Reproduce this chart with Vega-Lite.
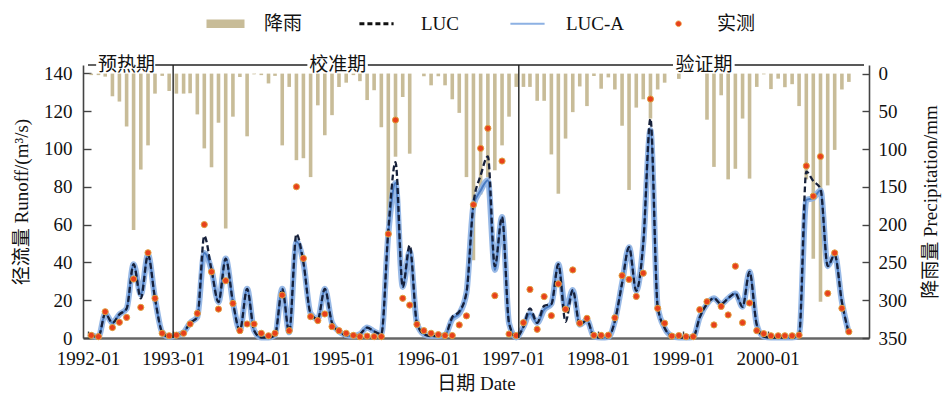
{
  "$schema": "https://vega.github.io/schema/vega-lite/v6.json",
  "autosize": {"type": "none"},
  "width": 786,
  "height": 273,
  "padding": {"left": 83, "top": 65, "right": 73, "bottom": 60},
  "background": "white",
  "config": {
    "view": {"stroke": null},
    "font": "Liberation Serif, Noto Sans CJK SC",
    "axis": {"labelFont": "Liberation Serif, Noto Sans CJK SC", "titleFont": "Liberation Serif, Noto Sans CJK SC", "labelFontSize": 19, "titleFontSize": 19, "titleFontWeight": "normal", "labelColor": "#111", "titleColor": "#111", "grid": false, "domainColor": "#444", "tickColor": "#444", "domainWidth": 1.6, "tickWidth": 1.4, "labelOverlap": false},
    "axisLeft": {"tickSize": -8, "labelPadding": 19, "titlePadding": 12},
    "axisRight": {"tickSize": -7, "labelPadding": 16, "titlePadding": 34, "titleAngle": 270},
    "axisBottom": {"tickSize": -7, "labelPadding": 18, "titlePadding": 6, "domainColor": "#666", "domainWidth": 2.4, "labelFlush": false},
    "legend": {"labelFont": "Liberation Serif, Noto Sans CJK SC", "labelFontSize": 19, "labelColor": "#111"}
  },
  "datasets": {
    "monthly": [
      {"date":"1992-01-15","precip":2,"obs":1.4,"luca":1.5,"luc":1.5},
      {"date":"1992-02-15","precip":2,"obs":0.7,"luca":0.5,"luc":0.5},
      {"date":"1992-03-15","precip":4,"obs":13.9,"luca":13,"luc":13},
      {"date":"1992-04-15","precip":30,"obs":5.5,"luca":8,"luc":8},
      {"date":"1992-05-15","precip":37,"obs":8.3,"luca":12.5,"luc":12.5},
      {"date":"1992-06-15","precip":70,"obs":10.9,"luca":15.5,"luc":15.5},
      {"date":"1992-07-15","precip":207,"obs":31.2,"luca":39,"luc":39},
      {"date":"1992-08-15","precip":127,"obs":16.2,"luca":23,"luc":21},
      {"date":"1992-09-15","precip":95,"obs":45.1,"luca":44,"luc":44},
      {"date":"1992-10-15","precip":26.5,"obs":21,"luca":21,"luc":21},
      {"date":"1992-11-15","precip":3,"obs":2.5,"luca":3,"luc":3},
      {"date":"1992-12-15","precip":23,"obs":1.2,"luca":0.5,"luc":0.5},
      {"date":"1993-01-15","precip":26.5,"obs":1.5,"luca":1.5,"luc":1.5},
      {"date":"1993-02-15","precip":26.5,"obs":2.5,"luca":3,"luc":3},
      {"date":"1993-03-15","precip":26,"obs":7.4,"luca":8,"luc":8},
      {"date":"1993-04-15","precip":54,"obs":13,"luca":11,"luc":11},
      {"date":"1993-05-15","precip":99,"obs":60,"luca":45,"luc":54},
      {"date":"1993-06-15","precip":124,"obs":35,"luca":36,"luc":36},
      {"date":"1993-07-15","precip":65,"obs":15.3,"luca":19,"luc":19},
      {"date":"1993-08-15","precip":205,"obs":30.3,"luca":42,"luc":42},
      {"date":"1993-09-15","precip":57,"obs":18.3,"luca":19,"luc":19},
      {"date":"1993-10-15","precip":4.5,"obs":3.9,"luca":4,"luc":4},
      {"date":"1993-11-15","precip":83,"obs":7.4,"luca":26,"luc":26},
      {"date":"1993-12-15","precip":1,"obs":7.4,"luca":4,"luc":4},
      {"date":"1994-01-15","precip":2,"obs":2.5,"luca":0.2,"luc":0.2},
      {"date":"1994-02-15","precip":13,"obs":1.2,"luca":0.2,"luc":0.2},
      {"date":"1994-03-15","precip":3,"obs":2.5,"luca":1.5,"luc":1.5},
      {"date":"1994-04-15","precip":95,"obs":22.7,"luca":26,"luc":26},
      {"date":"1994-05-15","precip":17.6,"obs":3.9,"luca":3,"luc":3},
      {"date":"1994-06-15","precip":114.6,"obs":80,"luca":51,"luc":55},
      {"date":"1994-07-15","precip":112,"obs":42.1,"luca":40,"luc":40},
      {"date":"1994-08-15","precip":137,"obs":11.3,"luca":13,"luc":13},
      {"date":"1994-09-15","precip":42,"obs":9.2,"luca":10,"luc":10},
      {"date":"1994-10-15","precip":81.6,"obs":12.7,"luca":26,"luc":26},
      {"date":"1994-11-15","precip":55,"obs":6,"luca":8,"luc":8},
      {"date":"1994-12-15","precip":17.6,"obs":3.9,"luca":3.5,"luc":3.5},
      {"date":"1995-01-15","precip":12,"obs":2.5,"luca":1.5,"luc":1.5},
      {"date":"1995-02-15","precip":2,"obs":1.4,"luca":1,"luc":1},
      {"date":"1995-03-15","precip":10,"obs":0.7,"luca":2,"luc":2},
      {"date":"1995-04-15","precip":35,"obs":1,"luca":5.5,"luc":5.5},
      {"date":"1995-05-15","precip":22,"obs":0.7,"luca":3.5,"luc":3.5},
      {"date":"1995-06-15","precip":71,"obs":0.7,"luca":2,"luc":2},
      {"date":"1995-07-15","precip":198,"obs":55,"luca":55,"luc":57},
      {"date":"1995-08-15","precip":110,"obs":115.3,"luca":82,"luc":93},
      {"date":"1995-09-15","precip":31,"obs":21,"luca":27,"luc":27},
      {"date":"1995-10-15","precip":106,"obs":17.4,"luca":46,"luc":49},
      {"date":"1995-11-15","precip":0,"obs":7.2,"luca":7.8,"luc":7.8},
      {"date":"1995-12-15","precip":3.5,"obs":3.9,"luca":2,"luc":2},
      {"date":"1996-01-15","precip":15.5,"obs":2.5,"luca":1,"luc":1},
      {"date":"1996-02-15","precip":3.5,"obs":1.8,"luca":1,"luc":1},
      {"date":"1996-03-15","precip":15.5,"obs":1.3,"luca":1.5,"luc":1.5},
      {"date":"1996-04-15","precip":34,"obs":1.3,"luca":10,"luc":11},
      {"date":"1996-05-15","precip":52,"obs":6.9,"luca":13,"luc":14},
      {"date":"1996-06-15","precip":137,"obs":11.7,"luca":24,"luc":24},
      {"date":"1996-07-15","precip":247,"obs":70.5,"luca":70,"luc":71},
      {"date":"1996-08-15","precip":160,"obs":100.3,"luca":78,"luc":86},
      {"date":"1996-09-15","precip":137,"obs":110.9,"luca":83.5,"luc":96},
      {"date":"1996-10-15","precip":128,"obs":22.4,"luca":36,"luc":38},
      {"date":"1996-11-15","precip":95,"obs":93.6,"luca":64,"luc":64},
      {"date":"1996-12-15","precip":57,"obs":2.1,"luca":7.8,"luc":7.8},
      {"date":"1997-01-15","precip":17.6,"obs":1.3,"luca":0.3,"luc":0.3},
      {"date":"1997-02-15","precip":17.6,"obs":8.1,"luca":6,"luc":6},
      {"date":"1997-03-15","precip":17.6,"obs":25.7,"luca":13,"luc":15.7},
      {"date":"1997-04-15","precip":36,"obs":4.6,"luca":8,"luc":8},
      {"date":"1997-05-15","precip":36,"obs":21.9,"luca":15,"luc":17},
      {"date":"1997-06-15","precip":107,"obs":11.8,"luca":18,"luc":18},
      {"date":"1997-07-15","precip":159,"obs":28.6,"luca":39,"luc":39},
      {"date":"1997-08-15","precip":86,"obs":15.2,"luca":14.8,"luc":8.6},
      {"date":"1997-09-15","precip":51,"obs":36,"luca":25.4,"luc":25.4},
      {"date":"1997-10-15","precip":17,"obs":7.8,"luca":7,"luc":7},
      {"date":"1997-11-15","precip":43,"obs":10.4,"luca":9.5,"luc":9.5},
      {"date":"1997-12-15","precip":3,"obs":1.4,"luca":0.7,"luc":0.7},
      {"date":"1998-01-15","precip":20,"obs":1.4,"luca":0.2,"luc":0.2},
      {"date":"1998-02-15","precip":5,"obs":1.5,"luca":0.5,"luc":0.5},
      {"date":"1998-03-15","precip":21,"obs":10.7,"luca":9,"luc":9},
      {"date":"1998-04-15","precip":69,"obs":33,"luca":29,"luc":29},
      {"date":"1998-05-15","precip":154,"obs":31,"luca":48,"luc":48},
      {"date":"1998-06-15","precip":45,"obs":22,"luca":25,"luc":25},
      {"date":"1998-07-15","precip":34,"obs":34.3,"luca":50,"luc":50},
      {"date":"1998-08-15","precip":59.5,"obs":126.4,"luca":110,"luc":116},
      {"date":"1998-09-15","precip":21,"obs":15.7,"luca":16.5,"luc":16.5},
      {"date":"1998-10-15","precip":12,"obs":7.8,"luca":5.3,"luc":5.3},
      {"date":"1998-11-15","precip":0,"obs":1,"luca":1,"luc":1},
      {"date":"1998-12-15","precip":7,"obs":1.3,"luca":0.2,"luc":0.2},
      {"date":"1999-01-15","precip":0,"obs":0.7,"luca":0.2,"luc":0.2},
      {"date":"1999-02-15","precip":0,"obs":0.7,"luca":0.5,"luc":0.5},
      {"date":"1999-03-15","precip":0,"obs":15,"luca":11,"luc":11},
      {"date":"1999-04-15","precip":61,"obs":19.2,"luca":18,"luc":18},
      {"date":"1999-05-15","precip":123.5,"obs":6.9,"luca":21,"luc":21},
      {"date":"1999-06-15","precip":28.7,"obs":16.7,"luca":18,"luc":18},
      {"date":"1999-07-15","precip":140,"obs":12.2,"luca":21,"luc":21},
      {"date":"1999-08-15","precip":126,"obs":38,"luca":23.6,"luc":23.6},
      {"date":"1999-09-15","precip":59.5,"obs":8.1,"luca":16.5,"luc":16.5},
      {"date":"1999-10-15","precip":139,"obs":18.5,"luca":35,"luc":35},
      {"date":"1999-11-15","precip":17.6,"obs":3.9,"luca":7,"luc":7},
      {"date":"1999-12-15","precip":1,"obs":2.3,"luca":0.7,"luc":0.7},
      {"date":"2000-01-15","precip":20.5,"obs":1.2,"luca":0.2,"luc":0.2},
      {"date":"2000-02-15","precip":6.7,"obs":1.2,"luca":0.2,"luc":0.2},
      {"date":"2000-03-15","precip":18,"obs":1.2,"luca":0.2,"luc":0.2},
      {"date":"2000-04-15","precip":14,"obs":1.2,"luca":0.2,"luc":0.2},
      {"date":"2000-05-15","precip":43,"obs":1.5,"luca":1.5,"luc":1.5},
      {"date":"2000-06-15","precip":140,"obs":91,"luca":73,"luc":88},
      {"date":"2000-07-15","precip":245,"obs":75,"luca":74,"luc":83},
      {"date":"2000-08-15","precip":302,"obs":96,"luca":78,"luc":79},
      {"date":"2000-09-15","precip":148,"obs":23.6,"luca":38,"luc":38},
      {"date":"2000-10-15","precip":101,"obs":45,"luca":44,"luc":44},
      {"date":"2000-11-15","precip":21,"obs":15.7,"luca":19,"luc":19},
      {"date":"2000-12-15","precip":11,"obs":3.3,"luca":2.5,"luc":2.5}
    ],
    "periods": [
      {"label":"预热期","date":"1992-06-14"},
      {"label":"校准期","date":"1994-12-10"},
      {"label":"验证期","date":"1999-04-02"}
    ],
    "segments": [
      {"date":"1992-01-01","end":"1992-02-05"},
      {"date":"1992-10-16","end":"1994-08-01"},
      {"date":"1995-04-18","end":"1998-11-20"},
      {"date":"1999-08-12","end":"2001-02-18"}
    ],
    "dividers": [
      {"date":"1993-01-01"},
      {"date":"1997-01-26"}
    ]
  },
  "encoding": {
    "x": {"field": "date", "type": "temporal",
          "scale": {"type": "utc", "domain": [{"year":1992,"month":1,"date":1,"utc":true},{"year":2001,"month":2,"date":18,"utc":true}]},
          "axis": {"title": "日期 Date", "format": "%Y-%m",
                   "values": [{"year":1992,"month":1,"date":1,"utc":true},{"year":1993,"month":1,"date":1,"utc":true},{"year":1994,"month":1,"date":1,"utc":true},{"year":1995,"month":1,"date":1,"utc":true},{"year":1996,"month":1,"date":1,"utc":true},{"year":1997,"month":1,"date":1,"utc":true},{"year":1998,"month":1,"date":1,"utc":true},{"year":1999,"month":1,"date":1,"utc":true},{"year":2000,"month":1,"date":1,"utc":true}]}}
  },
  "resolve": {"scale": {"y": "independent"}},
  "layer": [
    {
      "data": {"name": "monthly"},
      "mark": {"type": "bar", "size": 3.6},
      "encoding": {
        "y": {"field": "precip", "type": "quantitative",
              "scale": {"domain": [-11.4, 350], "reverse": true, "nice": false, "zero": false},
              "axis": {"orient": "right", "title": "降雨量 Precipitation/mm", "values": [0,50,100,150,200,250,300,350]}},
        "y2": {"datum": 0},
        "color": {"datum": "降雨", "type": "nominal",
                  "scale": {"domain": ["降雨", "LUC", "LUC-A", "实测"], "range": ["#c8bc98", "#111111", "#8db1e3", "#e8401c"]},
                  "legend": {"orient": "none", "legendX": 133, "legendY": -51, "direction": "horizontal", "title": null,
                             "gridAlign": "all", "columnPadding": 30, "labelOffset": 29, "symbolSize": 1444, "padding": 0,
                             "encode": {
                               "labels": {"update": {"dx": {"signal": "datum.value === 'LUC' ? 6 : 0"}}},
                               "symbols": {"update": {
                               "shape": {"signal": "datum.value === '降雨' ? 'M-1,-0.22H1V0.22H-1Z' : datum.value === '实测' ? 'M-0.15,0A0.15,0.15 0 1,0 0.15,0A0.15,0.15 0 1,0 -0.15,0Z' : 'M-0.9,0H0.9'"},
                               "size": {"value": 1444},
                               "fill": {"signal": "datum.value === '降雨' ? '#c8bc98' : datum.value === '实测' ? '#e8401c' : 'transparent'"},
                               "stroke": {"signal": "datum.value === 'LUC' ? '#111111' : datum.value === 'LUC-A' ? '#8db1e3' : datum.value === '实测' ? '#e8a040' : 'transparent'"},
                               "strokeWidth": {"signal": "datum.value === 'LUC' ? 3 : datum.value === 'LUC-A' ? 2 : datum.value === '实测' ? 0.8 : 0"},
                               "strokeDash": {"signal": "datum.value === 'LUC' ? [5, 3] : [1, 0]"},
                               "opacity": {"value": 1}
                             }}}}}
      }
    },
    {
      "layer": [
        {
          "data": {"name": "monthly"},
          "mark": {"type": "line", "interpolate": "monotone", "stroke": "#8db1e3", "strokeWidth": 6, "opacity": 0.9},
          "encoding": {
            "y": {"field": "luca", "type": "quantitative",
                  "scale": {"domain": [0, 144.4], "nice": false},
                  "axis": {"title": "径流量 Runoff/(m³/s)", "values": [0,20,40,60,80,100,120,140]}}
          }
        },
        {
          "data": {"name": "monthly"},
          "mark": {"type": "line", "interpolate": "monotone", "stroke": "#4a7cc4", "strokeWidth": 2},
          "encoding": {
            "y": {"field": "luca", "type": "quantitative", "axis": {"title": "径流量 Runoff/(m³/s)", "values": [0,20,40,60,80,100,120,140]}}
          }
        },
        {
          "data": {"name": "monthly"},
          "mark": {"type": "line", "interpolate": "monotone", "stroke": "#16203a", "strokeWidth": 2.3, "strokeDash": [6, 3]},
          "encoding": {
            "y": {"field": "luc", "type": "quantitative", "axis": {"title": "径流量 Runoff/(m³/s)", "values": [0,20,40,60,80,100,120,140]}}
          }
        },
        {
          "data": {"name": "monthly"},
          "mark": {"type": "point", "filled": true, "size": 38, "fill": "#e8401c", "stroke": "#e0a040", "strokeWidth": 1, "opacity": 1},
          "encoding": {
            "y": {"field": "obs", "type": "quantitative", "axis": {"title": "径流量 Runoff/(m³/s)", "values": [0,20,40,60,80,100,120,140]}}
          }
        },
        {
          "data": {"name": "dividers"},
          "mark": {"type": "rule", "color": "#222", "strokeWidth": 1.4},
          "encoding": {
            "y": {"datum": 0, "type": "quantitative", "axis": {"title": "径流量 Runoff/(m³/s)", "values": [0,20,40,60,80,100,120,140]}},
            "y2": {"datum": 144.4}
          }
        },
        {
          "data": {"name": "segments"},
          "mark": {"type": "rule", "color": "#222", "strokeWidth": 1.4},
          "encoding": {
            "x2": {"field": "end"},
            "y": {"datum": 144.4, "type": "quantitative", "axis": {"title": "径流量 Runoff/(m³/s)", "values": [0,20,40,60,80,100,120,140]}}
          }
        },
        {
          "data": {"name": "periods"},
          "mark": {"type": "text", "fontSize": 19, "baseline": "middle", "align": "center", "color": "#111", "font": "Noto Sans CJK SC"},
          "encoding": {
            "y": {"datum": 144.4, "type": "quantitative", "axis": {"title": "径流量 Runoff/(m³/s)", "values": [0,20,40,60,80,100,120,140]}},
            "text": {"field": "label"}
          }
        }
      ]
    }
  ]
}
